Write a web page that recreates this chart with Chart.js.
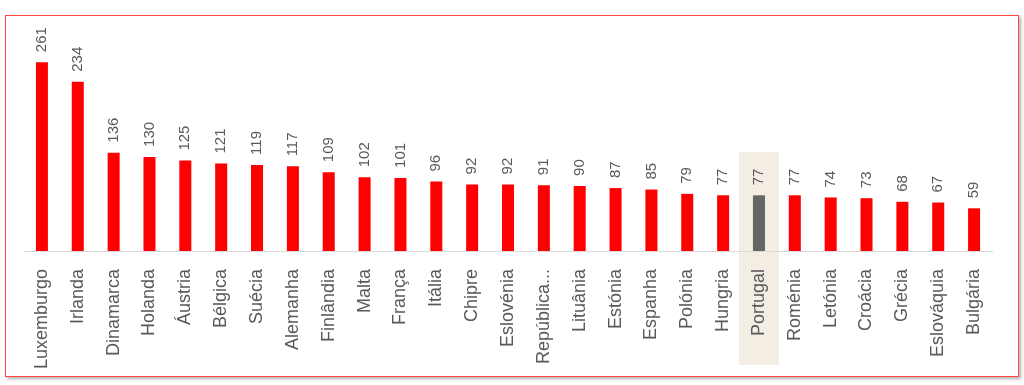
<!DOCTYPE html>
<html>
<head>
<meta charset="utf-8">
<script src="https://cdn.jsdelivr.net/npm/chart.js@4/dist/chart.umd.min.js"></script>
<style>
  html, body { margin: 0; padding: 0; background: #fff; }
  #moldura {
    position: absolute; left: 5px; top: 15px; width: 1012px; height: 360px;
    border: 1px solid #ff4545; box-shadow: 2px 2px 3px rgba(0,0,0,0.3);
  }
  #grafico { position: absolute; left: 0; top: 0; }
</style>
</head>
<body>
<div id="moldura"></div>
<canvas id="grafico" width="1024" height="385"></canvas>
<script>
const paises = [
  'Luxemburgo', 'Irlanda', 'Dinamarca', 'Holanda', 'Áustria', 'Bélgica', 'Suécia',
  'Alemanha', 'Finlândia', 'Malta', 'França', 'Itália', 'Chipre', 'Eslovénia',
  'República...', 'Lituânia', 'Estónia', 'Espanha', 'Polónia', 'Hungria', 'Portugal',
  'Roménia', 'Letónia', 'Croácia', 'Grécia', 'Eslováquia', 'Bulgária'
];
const valores = [261, 234, 136, 130, 125, 121, 119, 117, 109, 102, 101, 96, 92, 92,
  91, 90, 87, 85, 79, 77, 77, 77, 74, 73, 68, 67, 59];
const destaque = 'Portugal';

const cores = paises.map(p => p === destaque ? '#666666' : '#ff0000');

// fundo bege atrás da barra de Portugal
const fundoDestaque = {
  id: 'fundoDestaque',
  beforeDraw(chart) {
    const ctx = chart.ctx;
    const i = paises.indexOf(destaque);
    const x = chart.scales.x.getPixelForValue(i);
    const topo = chart.scales.y.getPixelForValue(137);
    const base = chart.chartArea.bottom + 114;
    ctx.save();
    ctx.fillStyle = '#f3ede4';
    ctx.fillRect(x - 20, topo, 40, base - topo);
    ctx.restore();
  }
};

// valores por cima das barras, rodados
const rotulosValor = {
  id: 'rotulosValor',
  afterDatasetsDraw(chart) {
    const ctx = chart.ctx;
    const meta = chart.getDatasetMeta(0);
    ctx.save();
    ctx.font = '15px "Liberation Sans", Arial, sans-serif';
    ctx.fillStyle = '#595959';
    ctx.textAlign = 'left';
    ctx.textBaseline = 'middle';
    meta.data.forEach((barra, i) => {
      ctx.save();
      ctx.translate(barra.x, barra.y - 10);
      ctx.rotate(-Math.PI / 2);
      ctx.fillText(String(valores[i]), 0, 0);
      ctx.restore();
    });
    ctx.restore();
  }
};

new Chart(document.getElementById('grafico').getContext('2d'), {
  type: 'bar',
  data: {
    labels: paises,
    datasets: [{
      data: valores,
      backgroundColor: cores,
      barPercentage: 0.335,
      categoryPercentage: 1
    }]
  },
  options: {
    responsive: false,
    animation: false,
    layout: { padding: { left: 24, right: 32, top: 34, bottom: 0 } },
    plugins: { legend: { display: false }, tooltip: { enabled: false } },
    scales: {
      x: {
        grid: { display: false },
        border: { display: true, color: '#d9d9d9', width: 1 },
        ticks: {
          minRotation: 90, maxRotation: 90, autoSkip: false, padding: 10,
          color: '#595959',
          font: { family: '"Liberation Sans", Arial, sans-serif', size: 18 }
        },
        afterFit: (scale) => { scale.height = 134; }
      },
      y: { display: false, min: 0, max: 300 }
    }
  },
  plugins: [fundoDestaque, rotulosValor]
});
</script>
</body>
</html>
